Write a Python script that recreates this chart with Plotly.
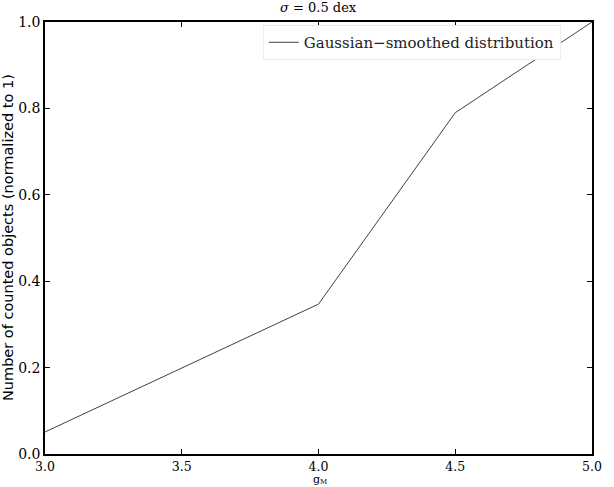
import plotly.graph_objects as go

x_vals = [3.0, 4.0, 4.5, 5.0]
y_vals = [0.051, 0.347, 0.79, 1.0]
series_name = "Gaussian\u2212smoothed distribution"
x_ticks = [3.0, 3.5, 4.0, 4.5, 5.0]
y_ticks = [0.0, 0.2, 0.4, 0.6, 0.8, 1.0]

serif = "DejaVu Serif, Liberation Serif, serif"
sans = "DejaVu Sans, sans-serif"

fig = go.Figure()
fig.add_trace(go.Scatter(x=x_vals, y=y_vals, mode="lines", name=series_name,
                         line=dict(color="#404040", width=1)))

fig.update_layout(
    width=614, height=487,
    margin=dict(l=45, r=13, t=22, b=33),
    paper_bgcolor="white", plot_bgcolor="white",
    showlegend=True,
    legend=dict(x=0.398, y=0.993, xanchor="left", yanchor="top",
                bgcolor="white", bordercolor="#ececec", borderwidth=1,
                font=dict(family=serif, size=15, color="#222"),
                itemwidth=30),
    xaxis=dict(range=[3.0, 5.0], tickvals=x_ticks,
               ticktext=[f"{v:.1f}" for v in x_ticks],
               ticks="inside", ticklen=5, tickcolor="black",
               showline=True, linecolor="black", linewidth=1.5, mirror="ticks",
               showgrid=False, zeroline=False,
               tickfont=dict(family=serif, size=12.5, color="black")),
    yaxis=dict(range=[0.0, 1.0], tickvals=y_ticks,
               ticktext=[f"{v:.1f}" for v in y_ticks],
               ticks="inside", ticklen=5, tickcolor="black",
               showline=True, linecolor="black", linewidth=1.5, mirror="ticks",
               showgrid=False, zeroline=False,
               tickfont=dict(family=serif, size=14, color="black")),
    annotations=[
        dict(text="<i>\u03c3</i> = 0.5 dex", xref="paper", yref="paper",
             x=0.5, y=1.0, yshift=15, showarrow=False, yanchor="middle",
             font=dict(family=serif, size=13, color="black")),
        dict(text="g", xref="paper", yref="paper", borderpad=0,
             x=0.5, xshift=-2, y=0, yshift=-33, showarrow=False, yanchor="bottom",
             font=dict(family=serif, size=11, color="black")),
        dict(text="M", xref="paper", yref="paper", borderpad=0,
             x=0.5, xshift=5, y=0, yshift=-33, showarrow=False, yanchor="bottom",
             font=dict(family=serif, size=7, color="black")),
        dict(text="Number of counted objects (normalized to 1)", xref="paper", yref="paper",
             x=0, xshift=-37, y=0.5, textangle=-90, showarrow=False,
             xanchor="center", yanchor="middle",
             font=dict(family=sans, size=14.5, color="black")),
    ],
)

fig.write_html("out.html", config={"displayModeBar": False},
               post_script="document.body.style.margin='0';")
